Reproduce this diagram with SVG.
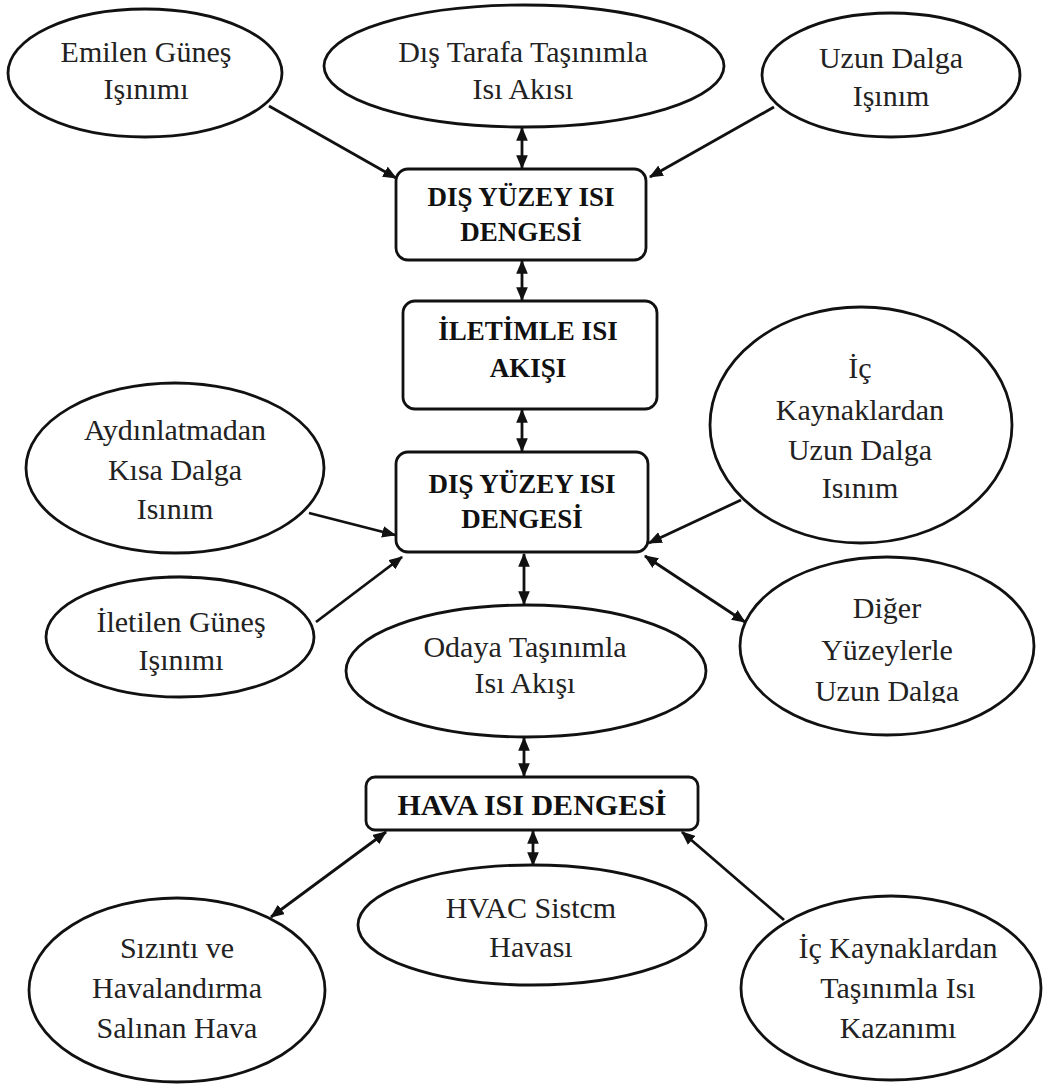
<svg xmlns="http://www.w3.org/2000/svg" width="1054" height="1085" viewBox="0 0 1054 1085">
  <style>
    .node ellipse, .node rect { fill: #ffffff; stroke: #111111; stroke-width: 2.8; }
    .lbl { font-family: "Liberation Serif", "Times New Roman", serif; font-size: 30px; fill: #222222; text-anchor: middle; }
    .box { font-family: "Liberation Serif", "Times New Roman", serif; font-size: 27px; font-weight: bold; fill: #111111; text-anchor: middle; }
    .edge { stroke: #111111; stroke-width: 2.8; fill: none; }
    .one { marker-end: url(#head); }
    .two { marker-start: url(#head); marker-end: url(#head); }
  </style>
  <defs>
    <marker id="head" viewBox="0 0 12 10" refX="11" refY="5" markerWidth="14" markerHeight="12" markerUnits="userSpaceOnUse" orient="auto-start-reverse">
      <path d="M0,0 L12,5 L0,10 Z" fill="#111111"/>
    </marker>
    <clipPath id="clipDiger">
      <rect x="700" y="550" width="354" height="153"/>
    </clipPath>
  </defs>

  <rect x="0" y="0" width="1054" height="1085" fill="#ffffff"/>

  <!-- connectors -->
  <g id="connectors">
    <line class="edge one" x1="269" y1="106" x2="396" y2="178"/>
    <line class="edge one" x1="774" y1="107" x2="650" y2="177"/>
    <line class="edge two" x1="522" y1="128" x2="522" y2="168"/>
    <line class="edge two" x1="522" y1="261" x2="522" y2="300"/>
    <line class="edge two" x1="522" y1="410" x2="522" y2="451"/>
    <line class="edge one" x1="309" y1="513" x2="395" y2="535"/>
    <line class="edge one" x1="316" y1="622" x2="402" y2="557"/>
    <line class="edge one" x1="741" y1="500" x2="649" y2="543"/>
    <line class="edge two" x1="645" y1="556" x2="745" y2="622"/>
    <line class="edge two" x1="524" y1="554" x2="524" y2="604"/>
    <line class="edge two" x1="524" y1="738" x2="524" y2="776"/>
    <line class="edge two" x1="533" y1="831" x2="533" y2="865"/>
    <line class="edge two" x1="386" y1="832" x2="271" y2="917"/>
    <line class="edge one" x1="784" y1="920" x2="682" y2="832"/>
  </g>

  <!-- outer surface inputs -->
  <g id="emilen-gunes" class="node">
    <ellipse cx="145" cy="73" rx="137" ry="64"/>
    <text class="lbl" x="146" y="62">Emilen Güneş</text>
    <text class="lbl" x="146" y="99">Işınımı</text>
  </g>
  <g id="dis-tasinim" class="node">
    <ellipse cx="524" cy="66" rx="200" ry="61"/>
    <text class="lbl" x="523" y="62">Dış Tarafa Taşınımla</text>
    <text class="lbl" x="523" y="99">Isı Akısı</text>
  </g>
  <g id="uzun-dalga" class="node">
    <ellipse cx="891" cy="75" rx="129" ry="62"/>
    <text class="lbl" x="891" y="68">Uzun Dalga</text>
    <text class="lbl" x="891" y="106">Işınım</text>
  </g>

  <!-- balance boxes -->
  <g id="dis-yuzey-1" class="node">
    <rect x="396" y="169" width="250" height="91" rx="12" ry="12"/>
    <text class="box" x="521" y="206">DIŞ YÜZEY ISI</text>
    <text class="box" x="521" y="241">DENGESİ</text>
  </g>
  <g id="iletim" class="node">
    <rect x="403" y="301" width="254" height="108" rx="12" ry="12"/>
    <text class="box" x="528" y="340">İLETİMLE ISI</text>
    <text class="box" x="528" y="377">AKIŞI</text>
  </g>
  <g id="dis-yuzey-2" class="node">
    <rect x="396" y="452" width="252" height="100" rx="12" ry="12"/>
    <text class="box" x="522" y="493">DIŞ YÜZEY ISI</text>
    <text class="box" x="522" y="528">DENGESİ</text>
  </g>

  <!-- inner surface inputs -->
  <g id="aydinlatma" class="node">
    <ellipse cx="175" cy="468" rx="149" ry="85"/>
    <text class="lbl" x="175" y="440">Aydınlatmadan</text>
    <text class="lbl" x="175" y="480">Kısa Dalga</text>
    <text class="lbl" x="175" y="519">Isınım</text>
  </g>
  <g id="iletilen-gunes" class="node">
    <line x1="168" y1="577" x2="192" y2="577" stroke="#9a9a9a" stroke-width="3"/>
    <ellipse cx="180" cy="637" rx="134" ry="60"/>
    <text class="lbl" x="181" y="632">İletilen Güneş</text>
    <text class="lbl" x="181" y="670">Işınımı</text>
  </g>
  <g id="ic-uzun-dalga" class="node">
    <ellipse cx="861" cy="425" rx="151" ry="118"/>
    <text class="lbl" x="860" y="378">İç</text>
    <text class="lbl" x="860" y="420">Kaynaklardan</text>
    <text class="lbl" x="860" y="460">Uzun Dalga</text>
    <text class="lbl" x="860" y="498">Isınım</text>
  </g>
  <g id="diger-yuzey" class="node">
    <ellipse cx="887" cy="646" rx="147" ry="89"/>
    <g clip-path="url(#clipDiger)">
      <text class="lbl" x="887" y="618">Diğer</text>
      <text class="lbl" x="887" y="660">Yüzeylerle</text>
      <text class="lbl" x="887" y="701">Uzun Dalga</text>
    </g>
  </g>
  <g id="odaya-tasinim" class="node">
    <ellipse cx="526" cy="671" rx="180" ry="66"/>
    <text class="lbl" x="525" y="657">Odaya Taşınımla</text>
    <text class="lbl" x="525" y="693">Isı Akışı</text>
  </g>

  <!-- room air balance -->
  <g id="hava-dengesi" class="node">
    <rect x="366" y="777" width="332" height="53" rx="9" ry="9"/>
    <text class="box" x="532" y="815" style="font-size:30px">HAVA ISI DENGESİ</text>
  </g>
  <g id="hvac" class="node">
    <ellipse cx="532" cy="925" rx="174" ry="60"/>
    <text class="lbl" x="531" y="918">HVAC Sistcm</text>
    <text class="lbl" x="531" y="957">Havası</text>
  </g>
  <g id="sizinti" class="node">
    <ellipse cx="177" cy="990" rx="148" ry="92"/>
    <text class="lbl" x="177" y="958">Sızıntı ve</text>
    <text class="lbl" x="177" y="998">Havalandırma</text>
    <text class="lbl" x="177" y="1038">Salınan Hava</text>
  </g>
  <g id="ic-tasinim" class="node">
    <ellipse cx="891" cy="988" rx="150" ry="92"/>
    <text class="lbl" x="898" y="958">İç Kaynaklardan</text>
    <text class="lbl" x="898" y="998">Taşınımla Isı</text>
    <text class="lbl" x="898" y="1038">Kazanımı</text>
  </g>
</svg>
